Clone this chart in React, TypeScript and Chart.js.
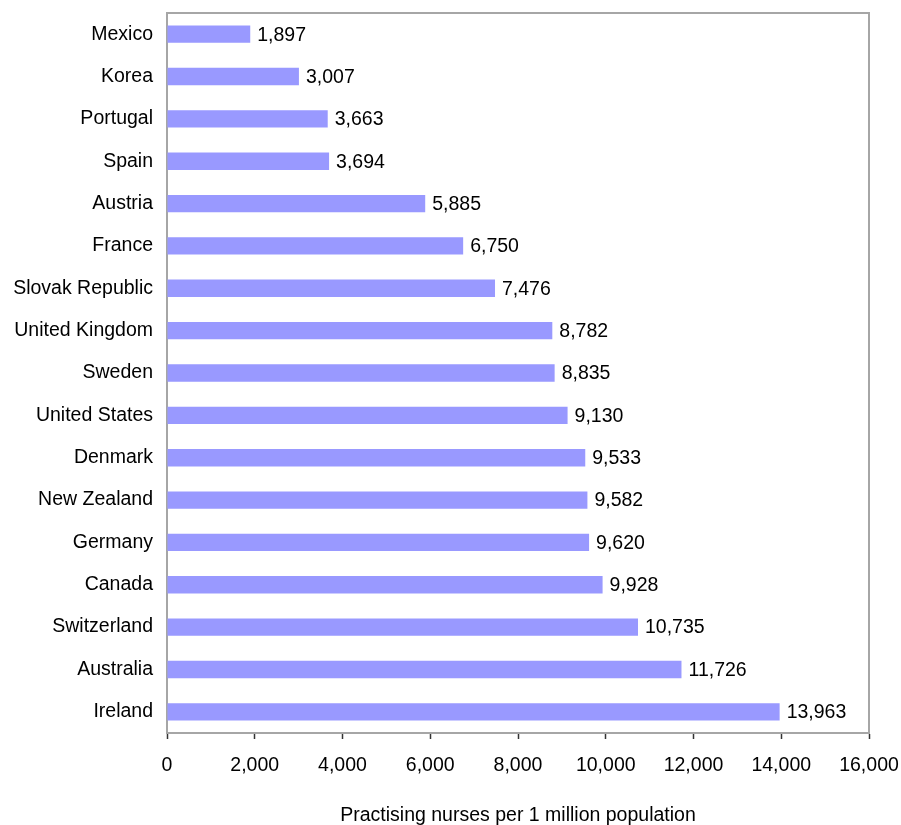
import React, { useEffect, useRef } from "react";
import { Chart, registerables } from "chart.js";

Chart.register(...registerables);

const countries = [
  "Mexico", "Korea", "Portugal", "Spain", "Austria", "France", "Slovak Republic",
  "United Kingdom", "Sweden", "United States", "Denmark", "New Zealand", "Germany",
  "Canada", "Switzerland", "Australia", "Ireland",
];
const nurses = [
  1897, 3007, 3663, 3694, 5885, 6750, 7476, 8782, 8835, 9130, 9533, 9582, 9620,
  9928, 10735, 11726, 13963,
];
const xTicks = [0, 2000, 4000, 6000, 8000, 10000, 12000, 14000, 16000];
const xTitle = "Practising nurses per 1 million population";

const FONT = "'Liberation Sans', Arial, Helvetica, sans-serif";
const FS = 19.5;
const fmt = (v: number) => v.toLocaleString("en-US");

const valueLabels = {
  id: "valueLabels",
  afterDatasetsDraw(chart: any) {
    const ctx = chart.ctx;
    const meta = chart.getDatasetMeta(0);
    const data = chart.data.datasets[0].data as number[];
    ctx.save();
    ctx.font = `${FS}px ${FONT}`;
    ctx.fillStyle = "#000";
    ctx.textAlign = "left";
    ctx.textBaseline = "middle";
    meta.data.forEach((bar: any, i: number) => {
      ctx.fillText(fmt(data[i]), bar.x + 7, bar.y + 1);
    });
    ctx.restore();
  },
};

const frame = {
  id: "frame",
  afterDraw(chart: any) {
    const { ctx, chartArea } = chart;
    ctx.save();
    ctx.strokeStyle = "#a6a6a6";
    ctx.lineWidth = 2;
    ctx.beginPath();
    ctx.moveTo(chartArea.left, chartArea.top);
    ctx.lineTo(chartArea.right, chartArea.top);
    ctx.lineTo(chartArea.right, chartArea.bottom);
    ctx.stroke();
    ctx.restore();
  },
};

const zeroPad = (scale: any) => {
  scale.paddingTop = 0;
  scale.paddingBottom = 0;
  scale.paddingLeft = 0;
  scale.paddingRight = 0;
};

export default function App() {
  const ref = useRef<HTMLCanvasElement | null>(null);
  useEffect(() => {
    if (!ref.current) return;
    const chart = new Chart(ref.current, {
      type: "bar",
      data: {
        labels: countries,
        datasets: [
          {
            data: nurses,
            backgroundColor: "#9999ff",
            borderWidth: 0,
            barPercentage: 0.41,
            categoryPercentage: 1,
          },
        ],
      },
      options: {
        indexAxis: "y",
        animation: false,
        responsive: true,
        maintainAspectRatio: false,
        layout: { padding: { top: 13, right: 32, left: 0, bottom: 0 } },
        plugins: {
          legend: { display: false },
          tooltip: { enabled: false },
        },
        scales: {
          x: {
            min: 0,
            max: 16000,
            afterBuildTicks(scale: any) {
              scale.ticks = xTicks.map((v) => ({ value: v }));
            },
            afterFit(scale: any) {
              scale.height = 92;
              zeroPad(scale);
            },
            grid: {
              display: true,
              drawOnChartArea: false,
              drawTicks: true,
              tickLength: 6,
              tickColor: "#333",
              tickWidth: 1.5,
            },
            border: { display: true, color: "#a6a6a6", width: 2 },
            ticks: {
              color: "#000",
              font: { family: FONT, size: FS },
              padding: 15,
              maxRotation: 0,
              callback: (v: any) => fmt(Number(v)),
            },
            title: {
              display: true,
              text: xTitle,
              color: "#000",
              font: { family: FONT, size: FS, lineHeight: 1.0 },
              padding: { top: 0, bottom: 0 },
            },
          },
          y: {
            afterFit(scale: any) {
              scale.width = 167;
              zeroPad(scale);
            },
            grid: { display: false, drawTicks: false, tickLength: 0 },
            border: { display: true, color: "#a6a6a6", width: 2 },
            ticks: {
              color: "#000",
              font: { family: FONT, size: FS },
              padding: 14,
            },
          },
        },
      },
      plugins: [valueLabels, frame],
    });
    return () => chart.destroy();
  }, []);

  return (
    <div style={{ position: "fixed", left: 0, top: 0, width: 901, height: 825, background: "#fff" }}>
      <canvas ref={ref} />
    </div>
  );
}
